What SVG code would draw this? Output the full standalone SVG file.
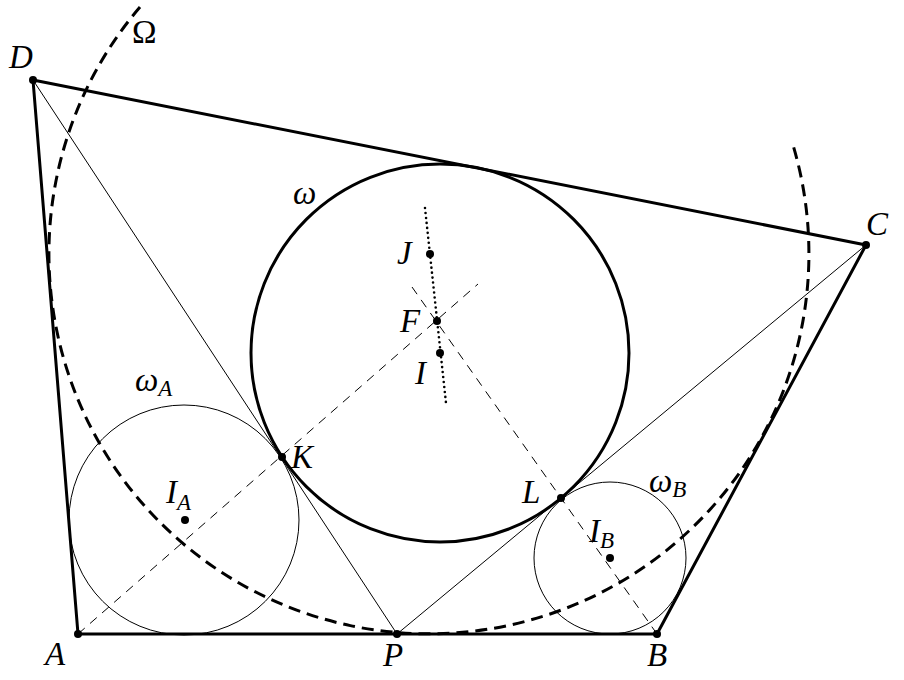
<svg xmlns="http://www.w3.org/2000/svg" width="904" height="680" viewBox="0 0 904 680">
<style>
.thick{fill:none;stroke:#000;stroke-width:3;stroke-linejoin:round}
.thin{fill:none;stroke:#000;stroke-width:1}
.tdash{fill:none;stroke:#000;stroke-width:1;stroke-dasharray:9 7}
.bdash{fill:none;stroke:#000;stroke-width:3;stroke-dasharray:12 7}
.dot{fill:none;stroke:#000;stroke-width:2.6;stroke-linecap:round;stroke-dasharray:0 5}
.pt{fill:#000}
text{font-family:"Liberation Serif","Times New Roman",serif;font-style:italic;font-size:33px;fill:#000}
.up{font-style:normal}
.sub{font-size:23px}
</style>
<rect width="904" height="680" fill="#fff"/>
<g id="connectors">
<polygon class="thick" points="78,634 657,634 866,245 33,80"/>
<line class="thin" x1="33" y1="80" x2="397" y2="634"/>
<line class="thin" x1="866" y1="245" x2="397" y2="634"/>
<line class="tdash" x1="78" y1="634" x2="478" y2="284"/>
<line class="tdash" x1="657" y1="634" x2="412" y2="287"/>
<line class="dot" x1="425" y1="208" x2="446" y2="403"/>
</g>
<g id="omega"><circle class="thick" cx="440" cy="353" r="189"/></g>
<g id="omegaA"><circle class="thin" cx="184" cy="520" r="115"/></g>
<g id="omegaB"><circle class="thin" cx="610" cy="558" r="76"/></g>
<g id="Omega"><path class="bdash" d="M140,7 A380,380 0 1 0 793,145"/></g>
<g id="points">
<circle class="pt" cx="33" cy="80" r="4"/>
<circle class="pt" cx="866" cy="245" r="4"/>
<circle class="pt" cx="78" cy="634" r="4"/>
<circle class="pt" cx="657" cy="634" r="4"/>
<circle class="pt" cx="397" cy="634" r="4"/>
<circle class="pt" cx="282" cy="457" r="4"/>
<circle class="pt" cx="561" cy="498" r="4"/>
<circle class="pt" cx="430" cy="254" r="4"/>
<circle class="pt" cx="437" cy="321" r="4"/>
<circle class="pt" cx="440" cy="353" r="4"/>
<circle class="pt" cx="185" cy="520" r="4"/>
<circle class="pt" cx="610" cy="558" r="4"/>
</g>
<g id="labels">
<text x="9" y="68">D</text>
<text class="up" x="132" y="43">Ω</text>
<text x="866" y="235">C</text>
<text x="293" y="204">ω</text>
<text x="397" y="264">J</text>
<text x="400" y="332">F</text>
<text x="415" y="384">I</text>
<text x="135" y="391">ω<tspan class="sub" dy="5">A</tspan></text>
<text x="166" y="503">I<tspan class="sub" dy="7">A</tspan></text>
<text x="291" y="468">K</text>
<text x="522" y="503">L</text>
<text x="649" y="492">ω<tspan class="sub" dy="5">B</tspan></text>
<text x="589" y="542">I<tspan class="sub" dy="6">B</tspan></text>
<text x="45" y="665">A</text>
<text x="383" y="666">P</text>
<text x="647" y="666">B</text>
</g>
</svg>
